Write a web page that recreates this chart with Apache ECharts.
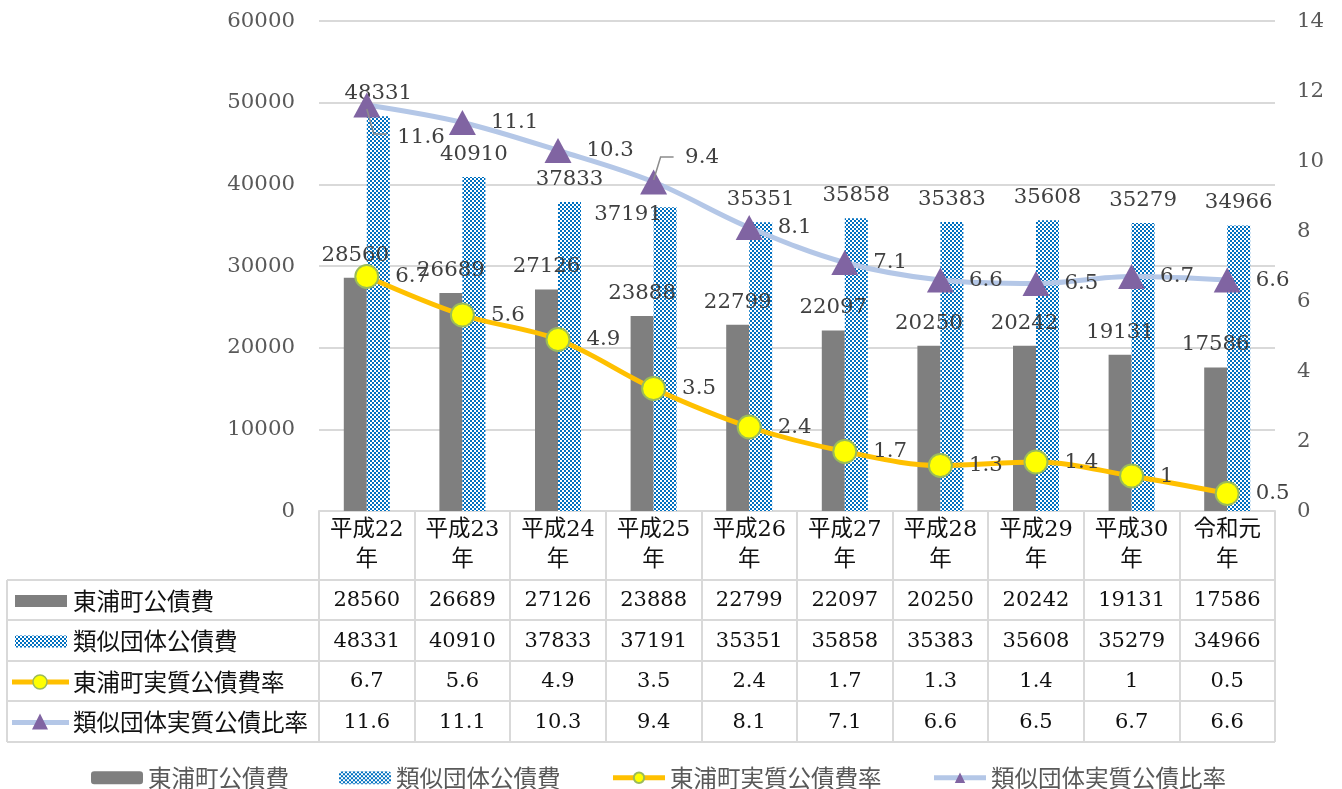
<!DOCTYPE html>
<html><head><meta charset="utf-8">
<script src="https://cdn.jsdelivr.net/npm/echarts@6/dist/echarts.min.js"></script>
<style>html,body{margin:0;padding:0;background:#fff}#c{width:1342px;height:789px}</style>
</head><body><div id="c"></div>
<script>
const categories = ['平成22年','平成23年','平成24年','平成25年','平成26年','平成27年','平成28年','平成29年','平成30年','令和元年'];
const townDebt = [28560,26689,27126,23888,22799,22097,20250,20242,19131,17586];
const similarDebt = [48331,40910,37833,37191,35351,35858,35383,35608,35279,34966];
const townRatio = [6.7,5.6,4.9,3.5,2.4,1.7,1.3,1.4,1,0.5];
const similarRatio = [11.6,11.1,10.3,9.4,8.1,7.1,6.6,6.5,6.7,6.6];
const seriesNames = ['東浦町公債費','類似団体公債費','東浦町実質公債費率','類似団体実質公債比率'];
const leftAxis = {min:0, max:60000, interval:10000};
const rightAxis = {min:0, max:14, interval:2};

const SERIF = "'DejaVu Serif','Noto Sans CJK JP',serif";
const JP = "'Noto Sans CJK JP','DejaVu Serif',sans-serif";
const NUM_SIZE = 21.3;

function makePattern(){
  const c = document.createElement('canvas'); c.width = 4; c.height = 4;
  const ctx = c.getContext('2d');
  ctx.fillStyle = '#ffffff'; ctx.fillRect(0,0,4,4);
  ctx.fillStyle = '#0070C0';
  for (let y=0;y<4;y++) for (let x=0;x<4;x++){
    if (((x<2)?1:0) ^ ((y<2)?1:0)) ctx.fillRect(x,y,1,1);
  }
  return c;
}
const patternCanvas = makePattern();
const pattern = {image: patternCanvas, repeat: 'repeat'};

// label adjustments (style only)
const similarRatioLabelShift = {0:[2,32], 3:[3,-25]};
const similarDebtLabelShift = {3:[-37,30]};

const chart = echarts.init(document.getElementById('c'), null, {renderer:'canvas'});

const barLabel = {show:true, position:'top', distance:12, color:'#404040', fontSize:NUM_SIZE, fontFamily:SERIF};
const lineLabelA = {show:true, position:'right', distance:16, color:'#404040', fontSize:NUM_SIZE, fontFamily:SERIF};
const lineLabelB = {show:true, position:'right', distance:15, color:'#404040', fontSize:NUM_SIZE, fontFamily:SERIF};

const option = {
  animation:false,
  backgroundColor:'#fff',
  grid:{left:319, right:67, top:21, bottom:278, containLabel:false},
  legend:{
    top:761, left:86, itemWidth:52, itemHeight:13, itemGap:50,
    textStyle:{fontSize:23.5, color:'#595959', fontFamily:JP},
    data:[
      {name:seriesNames[0]},
      {name:seriesNames[1]},
      {name:seriesNames[2], lineStyle:{width:5}},
      {name:seriesNames[3], lineStyle:{width:5}}
    ]
  },
  xAxis:{
    type:'category', data:categories,
    axisLine:{show:true, lineStyle:{color:'#D9D9D9', width:2}},
    axisTick:{show:true, length:231, lineStyle:{color:'#D9D9D9', width:2}},
    axisLabel:{
      interval:0, margin:4, color:'#111', fontSize:22.5, lineHeight:30, fontFamily:SERIF,
      formatter:(v)=> v.slice(0, v.length-1) + '\n' + v.slice(v.length-1)
    }
  },
  yAxis:[
    {type:'value', min:leftAxis.min, max:leftAxis.max, interval:leftAxis.interval,
     axisLine:{show:false}, axisTick:{show:false},
     axisLabel:{margin:24, color:'#595959', fontSize:NUM_SIZE, fontFamily:SERIF, formatter:(v)=>String(v)},
     splitLine:{lineStyle:{color:'#D9D9D9', width:2}}},
    {type:'value', min:rightAxis.min, max:rightAxis.max, interval:rightAxis.interval,
     axisLine:{show:false}, axisTick:{show:false},
     axisLabel:{margin:22, color:'#595959', fontSize:NUM_SIZE, fontFamily:SERIF},
     splitLine:{show:false}}
  ],
  series:[
    {name:seriesNames[0], type:'bar', data:townDebt, barWidth:23, barGap:'0%',
     itemStyle:{color:'#7F7F7F'}, label:barLabel, z:2},
    {name:seriesNames[1], type:'bar', barWidth:23, barGap:'0%',
     data:similarDebt.map((v,i)=> similarDebtLabelShift[i]
        ? {value:v, label:{offset:similarDebtLabelShift[i]}} : v),
     itemStyle:{color:pattern}, label:barLabel, z:2},
    {name:seriesNames[2], type:'line', yAxisIndex:1, data:townRatio, smooth:0.35,
     symbol:'circle', symbolSize:23,
     lineStyle:{color:'#FFC000', width:5},
     itemStyle:{color:'#FFFF00', borderColor:'#9BBB59', borderWidth:2},
     label:lineLabelA, z:4},
    {name:seriesNames[3], type:'line', yAxisIndex:1, smooth:0.35,
     data:similarRatio.map((v,i)=> similarRatioLabelShift[i]
        ? {value:v, label:{offset:similarRatioLabelShift[i]}} : v),
     symbol:'triangle', symbolSize:[27,25],
     lineStyle:{color:'#B4C7E7', width:5},
     itemStyle:{color:'#8064A2'},
     label:lineLabelB, z:5}
  ]
};
chart.setOption(option);

// data table below the chart
const tableLeft = 7, tableRight = 1275;
const rowLines = [580, 620, 661, 701, 742];
const rows = [townDebt, similarDebt, townRatio, similarRatio];
const lineColor = '#D9D9D9';
const g = [];
rowLines.forEach(y => g.push({type:'line', shape:{x1:tableLeft, y1:y, x2:tableRight, y2:y}, style:{stroke:lineColor, lineWidth:2}, silent:true}));
g.push({type:'line', shape:{x1:tableLeft, y1:rowLines[0], x2:tableLeft, y2:rowLines[rowLines.length-1]}, style:{stroke:lineColor, lineWidth:2}, silent:true});
rows.forEach((arr, r) => {
  const cy = (rowLines[r] + rowLines[r+1]) / 2 + 1;
  arr.forEach((v, i) => {
    const cx = chart.convertToPixel({xAxisIndex:0}, i);
    g.push({type:'text', x:cx, y:cy, style:{text:String(v), fill:'#111', font:'21px ' + SERIF, align:'center', verticalAlign:'middle'}, silent:true});
  });
  const ix = 15, iw = 52;
  if (r === 0) g.push({type:'rect', shape:{x:ix, y:cy-6, width:iw, height:12}, style:{fill:'#7F7F7F'}});
  if (r === 1) g.push({type:'rect', shape:{x:ix, y:cy-6, width:iw, height:12}, style:{fill:pattern}});
  if (r === 2) {
    g.push({type:'line', shape:{x1:12, y1:cy, x2:69, y2:cy}, style:{stroke:'#FFC000', lineWidth:5}});
    g.push({type:'circle', shape:{cx:40, cy:cy, r:7}, style:{fill:'#FFFF00', stroke:'#9BBB59', lineWidth:1.5}});
  }
  if (r === 3) {
    g.push({type:'line', shape:{x1:12, y1:cy, x2:69, y2:cy}, style:{stroke:'#B4C7E7', lineWidth:5}});
    g.push({type:'polygon', shape:{points:[[40,cy-9],[48,cy+7],[32,cy+7]]}, style:{fill:'#8064A2'}});
  }
  g.push({type:'text', x:73, y:cy, style:{text:seriesNames[r], fill:'#111', font:'23.5px ' + JP, verticalAlign:'middle'}, silent:true});
});

// leader lines for moved labels of the similar-ratio series
Object.keys(similarRatioLabelShift).forEach(k => {
  const i = +k;
  const p = chart.convertToPixel({seriesIndex:3}, [i, similarRatio[i]]);
  const s = similarRatioLabelShift[i];
  const ty = p[1] + s[1] + (s[1] > 0 ? -3 : 0);
  const sy = p[1] + (s[1] > 0 ? 4 : -2);
  g.push({type:'polyline', shape:{points:[[p[0], sy], [p[0] + 7, ty], [p[0] + 20, ty]]},
          style:{stroke:'#8C8C8C', lineWidth:1.5, fill:null}, z:100, silent:true});
});

chart.setOption({graphic:{elements:g}});
</script>
</body></html>
